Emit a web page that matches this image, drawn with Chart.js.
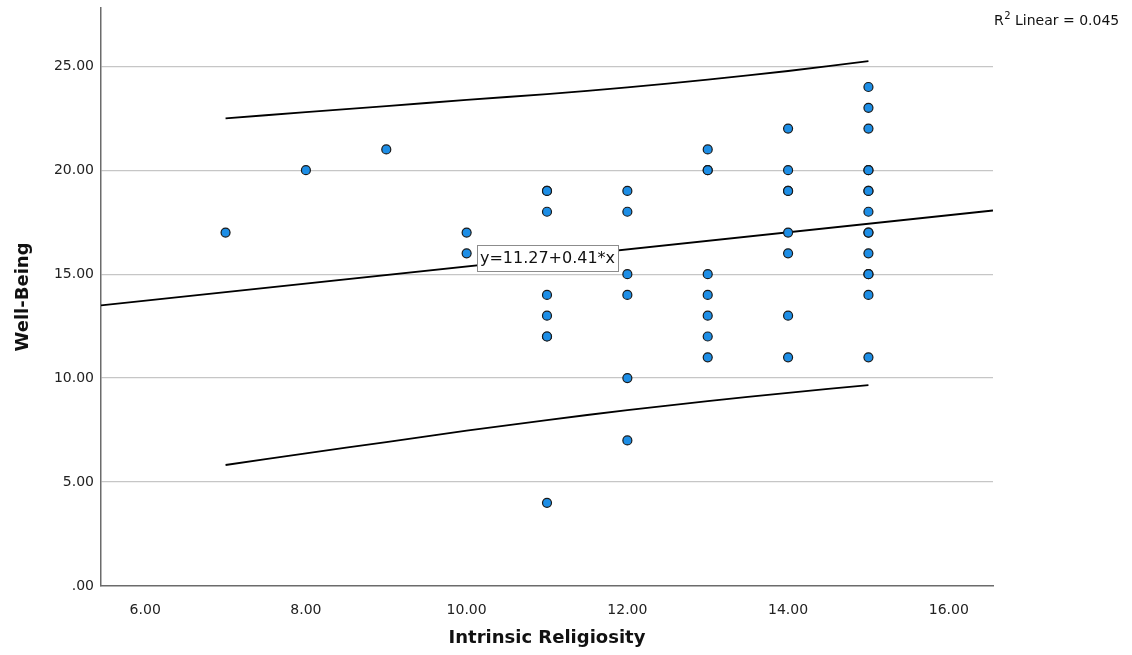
<!DOCTYPE html>
<html>
<head>
<meta charset="utf-8">
<script src="https://cdn.jsdelivr.net/npm/chart.js@4.4.0/dist/chart.umd.min.js"></script>
<style>
  html, body { margin: 0; padding: 0; background: #fff; }
</style>
</head>
<body>
<canvas id="dispersion" width="1132" height="655"></canvas>
<script>
// Intrinsic Religiosity (x) vs Well-Being (y), one entry per case
var religiosity = [7, 8, 9, 10, 10,
    11, 11, 11, 11, 11, 11, 11, 11,
    12, 12, 12, 12, 12, 12,
    13, 13, 13, 13, 13, 13, 13, 13,
    14, 14, 14, 14, 14, 14, 14, 14,
    15, 15, 15, 15, 15, 15, 15, 15, 15, 15, 15, 15, 15, 15, 15];
var wellBeing = [17, 20, 21, 17, 16,
    19, 19, 18, 14, 13, 12, 12, 4,
    19, 18, 15, 14, 10, 7,
    21, 20, 20, 15, 14, 13, 12, 11,
    22, 20, 19, 19, 17, 16, 13, 11,
    24, 23, 22, 20, 20, 19, 19, 18, 17, 17, 16, 15, 15, 14, 11];

// fit line y=11.27+0.41*x, ends at the axis limits
var fitX = [5.45, 16.55];
var fitY = [13.50, 18.06];

// prediction interval curves
var bandX = [7, 8, 9, 10, 11, 12, 13, 14, 15];
var upperBand = [22.49, 22.79, 23.08, 23.38, 23.66, 23.98, 24.36, 24.77, 25.25];
var lowerBand = [5.82, 6.38, 6.92, 7.47, 7.98, 8.46, 8.89, 9.29, 9.66];

var xTicks = [6, 8, 10, 12, 14, 16];
var xTickLabels = ['6.00', '8.00', '10.00', '12.00', '14.00', '16.00'];
var yTicks = [0, 5, 10, 15, 20, 25];
var yTickLabels = ['.00', '5.00', '10.00', '15.00', '20.00', '25.00'];

var equationText = 'y=11.27+0.41*x';
var equationAt = [11, 15.78];
var rSquared = '0.045';

function pares(xs, ys) {
    return xs.map(function (x, i) { return { x: x, y: ys[i] }; });
}

var fuente = '"DejaVu Sans", sans-serif';

var etiquetas = {
    id: 'etiquetas',
    afterDatasetsDraw: function (chart) {
        var ctx = chart.ctx;
        var px = chart.scales.x.getPixelForValue(equationAt[0]);
        var py = chart.scales.y.getPixelForValue(equationAt[1]);
        ctx.save();
        ctx.font = '16px ' + fuente;
        var w = Math.round(ctx.measureText(equationText).width + 6);
        var h = 26;
        var bx = Math.round(px - w / 2), by = Math.round(py - h / 2);
        ctx.fillStyle = '#fff';
        ctx.fillRect(bx, by, w, h);
        ctx.strokeStyle = '#8c8c8c';
        ctx.lineWidth = 1;
        ctx.strokeRect(bx + 0.5, by + 0.5, w, h);
        ctx.fillStyle = '#111';
        ctx.textAlign = 'center';
        ctx.textBaseline = 'middle';
        ctx.fillText(equationText, px + 0.5, py + 1);

        // R2 note in the top right corner
        var tx = chart.chartArea.right + 1, ty = 21;
        ctx.textAlign = 'left';
        ctx.font = '14px ' + fuente;
        ctx.fillText('R', tx, ty);
        tx += ctx.measureText('R').width + 0.5;
        ctx.font = '10px ' + fuente;
        ctx.fillText('2', tx, ty - 5);
        tx += ctx.measureText('2').width;
        ctx.font = '14px ' + fuente;
        ctx.fillText(' Linear = ' + rSquared, tx, ty);
        ctx.restore();
    }
};

var ctx = document.getElementById('dispersion').getContext('2d');
var chart = new Chart(ctx, {
    type: 'scatter',
    data: {
        datasets: [{
            label: 'Well-Being',
            data: pares(religiosity, wellBeing),
            backgroundColor: '#1d8ee6',
            borderColor: '#1a1a1a',
            borderWidth: 1.2,
            pointRadius: 4.5,
            order: 0
        }, {
            label: 'Fit',
            data: pares(fitX, fitY),
            showLine: true,
            pointRadius: 0,
            borderColor: '#000',
            borderWidth: 1.8,
            order: 1
        }, {
            label: 'Upper',
            data: pares(bandX, upperBand),
            showLine: true,
            pointRadius: 0,
            tension: 0.3,
            borderColor: '#000',
            borderWidth: 1.8,
            order: 1
        }, {
            label: 'Lower',
            data: pares(bandX, lowerBand),
            showLine: true,
            pointRadius: 0,
            tension: 0.3,
            borderColor: '#000',
            borderWidth: 1.8,
            order: 1
        }]
    },
    options: {
        responsive: false,
        animation: false,
        layout: { padding: { left: 0, right: 139, top: 8, bottom: 0 } },
        plugins: {
            legend: { display: false },
            tooltip: { enabled: false }
        },
        scales: {
            x: {
                type: 'linear',
                min: 5.45,
                max: 16.55,
                afterBuildTicks: function (s) {
                    s.ticks = xTicks.map(function (v) { return { value: v }; });
                },
                afterFit: function (s) {
                    s.height = 69;
                    s.paddingLeft = 0;
                    s.paddingRight = 0;
                },
                grid: { display: false },
                border: { display: true, color: '#6b6b6b', width: 1.5 },
                ticks: {
                    padding: 8,
                    color: '#222',
                    font: { family: fuente, size: 14 },
                    maxRotation: 0,
                    callback: function (v, i) { return xTickLabels[i]; }
                },
                title: {
                    display: true,
                    text: 'Intrinsic Religiosity',
                    color: '#111',
                    font: { family: fuente, size: 18, weight: 'bold' },
                    padding: { top: 0, bottom: 6 }
                }
            },
            y: {
                type: 'linear',
                min: 0,
                max: 27.8,
                afterBuildTicks: function (s) {
                    s.ticks = yTicks.map(function (v) { return { value: v }; });
                },
                afterFit: function (s) {
                    s.width = 101;
                    s.paddingTop = 0;
                    s.paddingBottom = 0;
                },
                grid: {
                    drawTicks: false,
                    lineWidth: 1.2,
                    color: function (c) { return c.tick && c.tick.value === 0 ? 'rgba(0,0,0,0)' : '#c6c6c6'; }
                },
                border: { display: true, color: '#6b6b6b', width: 1.5 },
                ticks: {
                    padding: 7,
                    color: '#222',
                    font: { family: fuente, size: 14 },
                    callback: function (v, i) { return yTickLabels[i]; }
                },
                title: {
                    display: true,
                    text: 'Well-Being',
                    color: '#111',
                    font: { family: fuente, size: 18, weight: 'bold' },
                    padding: { top: 13, bottom: 0 }
                }
            }
        }
    },
    plugins: [etiquetas]
});
</script>
</body>
</html>
